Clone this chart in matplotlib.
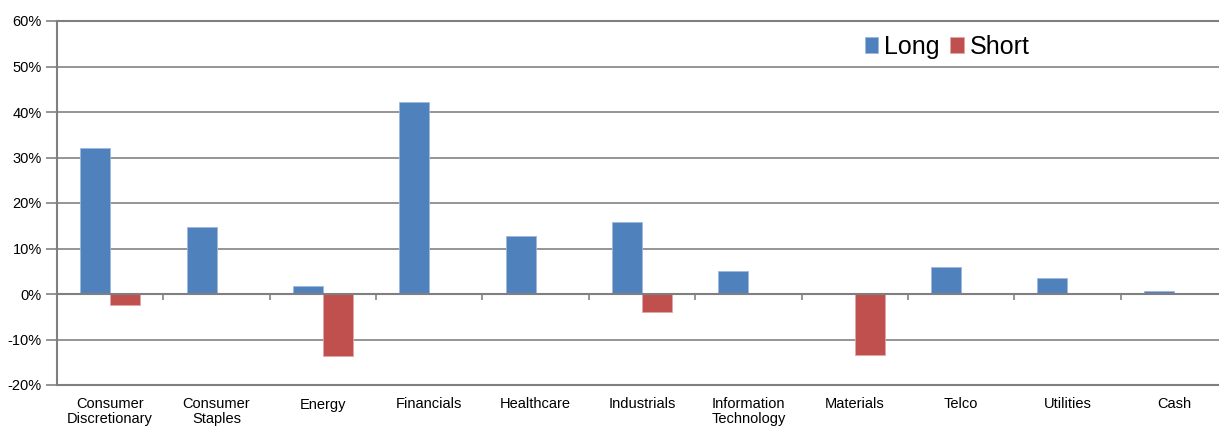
import matplotlib
matplotlib.use('Agg')
from matplotlib import pyplot as plt
from matplotlib.ticker import FuncFormatter
import numpy as np

plt.rcParams['font.family'] = ['Liberation Sans', 'DejaVu Sans']

SECTORS = ['Consumer\nDiscretionary', 'Consumer\nStaples', 'Energy', 'Financials',
           'Healthcare', 'Industrials', 'Information\nTechnology', 'Materials',
           'Telco', 'Utilities', 'Cash']
LONG = [32.1, 14.8, 1.8, 42.2, 12.7, 15.8, 5.1, 0.0, 5.9, 3.6, 0.7]
SHORT = [-2.4, 0.0, -13.6, -0.1, 0.0, -3.9, 0.0, -13.3, 0.0, 0.0, 0.0]
Y_TICKS = [-20, -10, 0, 10, 20, 30, 40, 50, 60]

BLUE = '#4F81BD'
RED = '#C0504D'
GRID = '#8C8C8C'

fig = plt.figure(figsize=(12.19, 4.26), dpi=100)
# plot area runs a little past the right edge, like the original
ax = fig.add_axes([57 / 1219, 41 / 426, 1170 / 1219, 364 / 426])

x = np.arange(len(SECTORS))
width = 0.282
ax.bar(x - width / 2, LONG, width, color=BLUE, edgecolor='#9DB8DE', linewidth=0.6,
       label='Long', zorder=3)
ax.bar(x + width / 2, SHORT, width, color=RED, edgecolor='#E2A5A4', linewidth=0.6,
       label='Short', zorder=3)

ax.set_xlim(-0.5, len(SECTORS) - 0.5)
ax.set_ylim(-20, 60)
ax.set_yticks(Y_TICKS)
ax.yaxis.set_major_formatter(FuncFormatter(lambda v, p: '%d%%' % v))
ax.yaxis.grid(True, color=GRID, linewidth=1.3, zorder=1)
ax.set_axisbelow(True)
ax.axhline(0, color='#7F7F7F', linewidth=1.5, zorder=4)

ax.set_xticks(x)
ax.set_xticklabels(SECTORS, fontsize=10.5, linespacing=1.0, va='top')
ax.tick_params(axis='x', length=0, pad=9)
ax.tick_params(axis='y', length=8, width=1.3, color=GRID, pad=3, labelsize=10.5)

for side in ['left', 'bottom', 'top']:
    ax.spines[side].set_color('#7F7F7F')
    ax.spines[side].set_linewidth(1.5)
ax.spines['right'].set_visible(False)

# small category separator ticks under the zero line
sec = ax.secondary_xaxis(0.25)
sec.set_xticks(np.arange(len(SECTORS) - 1) + 0.5)
sec.set_xticklabels([])
sec.tick_params(axis='x', length=4, width=1.3, color=GRID, direction='out')
sec.spines['bottom'].set_visible(False)

ax.legend(loc='upper left', bbox_to_anchor=(790 / 1170, 1.01), ncol=2, frameon=False,
          fontsize=18, handlelength=0.55, handleheight=0.55, handletextpad=0.25,
          columnspacing=0.4, borderaxespad=0.3)

fig.savefig('out.png', dpi=100)
